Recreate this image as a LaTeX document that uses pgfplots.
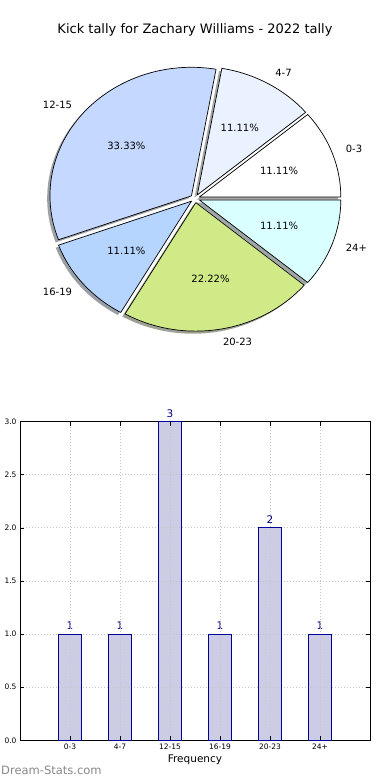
\documentclass[border=0pt]{standalone}
\usepackage{fontspec}
\setmainfont{DejaVu Sans}
\usepackage{pgfplots}
\pgfplotsset{compat=1.18}

\definecolor{cA}{HTML}{FFFFFF}
\definecolor{cB}{HTML}{EBF2FF}
\definecolor{cC}{HTML}{C5D8FF}
\definecolor{cD}{HTML}{B5D5FF}
\definecolor{cE}{HTML}{D0EA88}
\definecolor{cF}{HTML}{DAFFFF}
\definecolor{barfill}{HTML}{CCCCE5}
\definecolor{baredge}{HTML}{000099}
\definecolor{navy}{HTML}{000080}
\definecolor{wmark}{HTML}{888888}

% pie data: count / label / colour
\def\piedata{1/0-3/cA,1/4-7/cB,3/12-15/cC,1/16-19/cD,2/20-23/cE,1/24+/cF}

\newcommand\pieshadow[4]{%
  \fill[#4!30!black, opacity=0.5] ([shift={(-2.8pt,-2.6pt)}]axis cs:{0.0325*cos(#3)},{0.0325*sin(#3)}) -- +(#1:141.5pt and 128.5pt) arc[start angle=#1, end angle=#2, x radius=141.5pt, y radius=128.5pt] -- cycle;%
}
\newcommand\piewedge[7]{%
  \filldraw[fill=#4, draw=black, line width=0.7pt, line join=round] (axis cs:{0.0325*cos(#3)},{0.0325*sin(#3)}) -- +(#1:141.5pt and 128.5pt) arc[start angle=#1, end angle=#2, x radius=141.5pt, y radius=128.5pt] -- cycle;%
  \node[font=\fontsize{10}{12}\selectfont, inner sep=0pt] at (axis cs:{0.6325*cos(#3)},{0.6325*sin(#3)}) {\pgfmathprintnumber[fixed,precision=2,fixed zerofill,assume math mode=true]{#6}\%};%
  \node[font=\fontsize{10}{12}\selectfont, inner sep=0pt, anchor=#7] at (axis cs:{1.1325*cos(#3)},{1.1325*sin(#3)}) {#5};%
}

\begin{document}
\begin{tikzpicture}
\path (0,0) rectangle (390pt,780pt);

% build the pie slices from the counts
\gdef\pietotal{0}%
\foreach \qv/\ql/\qc in \piedata {\pgfmathsetmacro\qsum{\pietotal+\qv}\xdef\pietotal{\qsum}}%
\gdef\qcum{0}%
\gdef\pieshadows{}%
\gdef\piewedges{}%
\foreach \qv/\ql/\qc in \piedata {%
  \pgfmathsetmacro\qa{\qcum*360/\pietotal}%
  \pgfmathsetmacro\qb{(\qcum+\qv)*360/\pietotal}%
  \pgfmathsetmacro\qmid{(\qa+\qb)/2}%
  \pgfmathsetmacro\qpct{\qv*100/\pietotal}%
  \pgfmathsetmacro\qnext{\qcum+\qv}%
  \pgfmathtruncatemacro\qside{cos(\qmid)>0}%
  \ifnum\qside=1 \def\qanch{west}\else\def\qanch{east}\fi
  \xdef\qcum{\qnext}%
  \xdef\pieshadows{\unexpanded\expandafter{\pieshadows}\noexpand\pieshadow{\qa}{\qb}{\qmid}{\qc}}%
  \xdef\piewedges{\unexpanded\expandafter{\piewedges}\noexpand\piewedge{\qa}{\qb}{\qmid}{\qc}{\ql}{\qpct}{\qanch}}%
}%

\node[font=\fontsize{13}{15}\selectfont] at (195pt,750.5pt) {Kick tally for Zachary Williams - 2022 tally};

% pie
\begin{axis}[at={(195pt,581.5pt)}, anchor=center, x=141.5pt, y=128.5pt,
  xmin=-1.3, xmax=1.3, ymin=-1.3, ymax=1.3, hide axis, clip=false]
\addplot[draw=none, mark=none] coordinates {(0,0)};
\pieshadows
\piewedges
\end{axis}

% bars
\begin{axis}[at={(20pt,39.7pt)}, anchor=south west, scale only axis,
  width=350pt, height=318.6pt,
  xmin=-1, xmax=6, ymin=0, ymax=3,
  xtick={0,...,5}, xticklabels={0-3,4-7,12-15,16-19,20-23,24+},
  ytick={0,0.5,...,3},
  yticklabel style={/pgf/number format/.cd, fixed, fixed zerofill, precision=1, assume math mode=true},
  ticklabel style={font=\fontsize{7.5}{9}\selectfont},
  tick align=inside, major tick length=4pt, tick style={black, line width=0.6pt},
  xmajorgrids, ymajorgrids,
  grid style={gray!45, line width=0.8pt, dash pattern=on 1pt off 2pt},
  axis line style={black, line width=0.8pt},
  set layers, axis on top,
  xlabel={Frequency}, xlabel style={font=\fontsize{10.5}{12}\selectfont, inner sep=0pt, yshift=-2pt},
  clip=false]
\addplot[ybar, bar shift=0pt, bar width=0.45, fill=barfill, draw=none]
  coordinates {(0,1) (1,1) (2,3) (3,1) (4,2) (5,1)};
\addplot[ybar, bar shift=0pt, bar width=0.45, fill=none, draw=baredge, line width=0.8pt, on layer=axis foreground,
  nodes near coords={\pgfmathprintnumber[assume math mode=true]{\pgfplotspointmeta}},
  nodes near coords style={font=\fontsize{10.5}{12}\selectfont, text=navy, fill=white, anchor=south, inner sep=0.5pt, yshift=3.5pt}]
  coordinates {(0,1) (1,1) (2,3) (3,1) (4,2) (5,1)};
\end{axis}

\node[anchor=west, font=\fontsize{11.5}{13}\selectfont, text=wmark, inner sep=0pt] at (1pt,10pt) {Dream-Stats.com};
\end{tikzpicture}
\end{document}
